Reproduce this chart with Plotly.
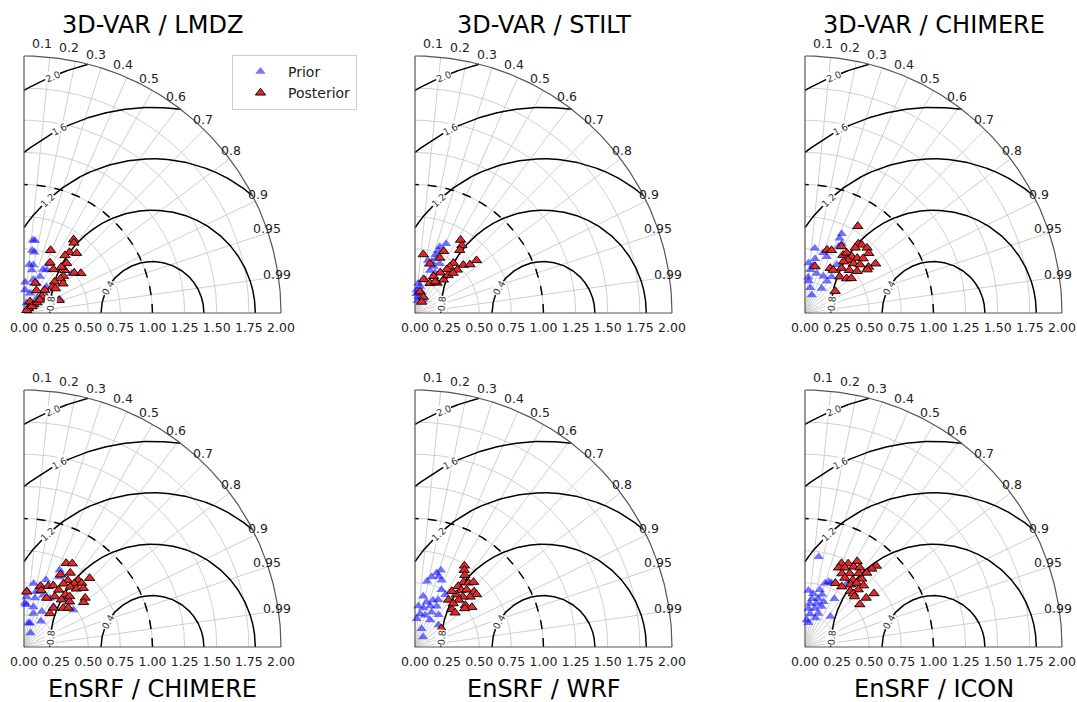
import numpy as np
import plotly.graph_objects as go

# ---------------- data ----------------
titles = ["3D-VAR / LMDZ", "3D-VAR / STILT", "3D-VAR / CHIMERE",
          "EnSRF / CHIMERE", "EnSRF / WRF", "EnSRF / ICON"]

corr_ticks = [0.1, 0.2, 0.3, 0.4, 0.5, 0.6, 0.7, 0.8, 0.9, 0.95, 0.99]
corr_tick_text = ["0.1", "0.2", "0.3", "0.4", "0.5", "0.6", "0.7", "0.8", "0.9", "0.95", "0.99"]
std_ticks = [0.0, 0.25, 0.5, 0.75, 1.0, 1.25, 1.5, 1.75, 2.0]
std_tick_text = ["0.00", "0.25", "0.50", "0.75", "1.00", "1.25", "1.50", "1.75", "2.00"]
rmsd_levels = [0.4, 0.8, 1.2, 1.6, 2.0]
rmsd_level_text = ["0.4", "0.8", "1.2", "1.6", "2.0"]
ref_std = 1.0
std_max = 2.0

# Panel 1: 3D-VAR / LMDZ
prior_std_1 = [0.57, 0.57, 0.49, 0.48, 0.38, 0.38, 0.34, 0.37, 0.38, 0.43, 0.24, 0.27,
               0.25, 0.31, 0.48, 0.30, 0.16, 0.22, 0.16, 0.08, 0.09, 0.05, 0.27, 0.18]
prior_corr_1 = [0.12, 0.15, 0.13, 0.17, 0.11, 0.19, 0.18, 0.40, 0.47, 0.45, 0.04, 0.27,
                0.40, 0.40, 0.77, 0.94, 0.65, 0.67, 0.29, 0.26, 0.70, 0.68, 0.65, 0.04]
post_std_1 = [0.69, 0.67, 0.53, 0.59, 0.62, 0.55, 0.44, 0.51, 0.41, 0.46, 0.46, 0.42,
              0.39, 0.54, 0.50, 0.34, 0.38, 0.25, 0.30, 0.31, 0.24, 0.21, 0.20, 0.29,
              0.10, 0.10, 0.05, 0.19, 0.03, 0.08, 0.13, 0.16]
post_corr_1 = [0.56, 0.58, 0.39, 0.60, 0.66, 0.58, 0.46, 0.65, 0.56, 0.69, 0.63, 0.73,
               0.73, 0.82, 0.78, 0.70, 0.80, 0.35, 0.74, 0.79, 0.67, 0.84, 0.48, 0.94,
               0.47, 0.76, 0.68, 0.73, 0.71, 0.77, 0.78, 0.77]

# Panel 2: 3D-VAR / STILT
prior_std_2 = [0.59, 0.55, 0.52, 0.53, 0.48, 0.46, 0.42, 0.39, 0.35, 0.35, 0.23, 0.21,
               0.18, 0.17, 0.27, 0.13, 0.12, 0.43, 0.42, 0.15, 0.10]
prior_corr_2 = [0.41, 0.35, 0.35, 0.42, 0.33, 0.37, 0.31, 0.37, 0.33, 0.45, 0.11, 0.19,
                0.07, 0.30, 0.29, 0.20, 0.54, 0.45, 0.24, 0.07, 0.20]
post_std_2 = [0.67, 0.64, 0.60, 0.46, 0.53, 0.47, 0.40, 0.49, 0.45, 0.53, 0.57, 0.63,
              0.47, 0.42, 0.37, 0.32, 0.34, 0.27, 0.26, 0.29, 0.17, 0.14, 0.10, 0.39,
              0.43, 0.29]
post_corr_2 = [0.53, 0.57, 0.58, 0.14, 0.42, 0.41, 0.29, 0.61, 0.60, 0.71, 0.75, 0.76,
               0.70, 0.59, 0.53, 0.45, 0.65, 0.25, 0.45, 0.59, 0.23, 0.46, 0.51, 0.66,
               0.69, 0.54]

# Panel 3: 3D-VAR / CHIMERE
prior_std_3 = [0.68, 0.64, 0.61, 0.58, 0.51, 0.49, 0.47, 0.39, 0.38, 0.34, 0.32, 0.28,
               0.32, 0.20, 0.23, 0.15, 0.25, 0.35, 0.45, 0.30, 0.43]
prior_corr_3 = [0.42, 0.42, 0.47, 0.45, 0.15, 0.29, 0.36, 0.07, 0.17, 0.12, 0.28, 0.09,
                0.45, 0.20, 0.56, 0.35, 0.11, 0.59, 0.55, 0.57, 0.18]
post_std_3 = [0.79, 0.59, 0.68, 0.69, 0.64, 0.70, 0.52, 0.53, 0.68, 0.54, 0.57, 0.57,
              0.53, 0.59, 0.62, 0.50, 0.54, 0.57, 0.61, 0.67, 0.40, 0.40, 0.45, 0.48,
              0.52, 0.59, 0.39, 0.42, 0.45, 0.29, 0.37]
post_corr_3 = [0.52, 0.48, 0.61, 0.64, 0.61, 0.69, 0.33, 0.39, 0.73, 0.55, 0.57, 0.64,
               0.63, 0.69, 0.73, 0.60, 0.70, 0.75, 0.81, 0.82, 0.49, 0.55, 0.63, 0.72,
               0.78, 0.82, 0.69, 0.77, 0.80, 0.81, 0.21]

# Panel 4: EnSRF / CHIMERE
prior_std_4 = [0.66, 0.64, 0.61, 0.55, 0.50, 0.49, 0.44, 0.44, 0.39, 0.39, 0.43, 0.33,
               0.32, 0.43, 0.39, 0.48, 0.49, 0.19, 0.31, 0.34, 0.19, 0.12, 0.24, 0.27]
prior_corr_4 = [0.42, 0.45, 0.45, 0.31, 0.15, 0.28, 0.05, 0.21, 0.05, 0.22, 0.35, 0.06,
                0.23, 0.47, 0.59, 0.80, 0.66, 0.25, 0.45, 0.02, 0.18, 0.42, 0.55, 0.27]
post_std_4 = [0.73, 0.75, 0.68, 0.63, 0.67, 0.62, 0.49, 0.51, 0.53, 0.58, 0.63, 0.67,
              0.74, 0.52, 0.59, 0.61, 0.65, 0.46, 0.52, 0.53, 0.43, 0.42, 0.47, 0.61,
              0.58, 0.50, 0.38, 0.43, 0.33, 0.46, 0.46]
post_corr_4 = [0.45, 0.50, 0.53, 0.45, 0.63, 0.55, 0.26, 0.37, 0.43, 0.53, 0.62, 0.67,
               0.69, 0.52, 0.61, 0.67, 0.71, 0.52, 0.62, 0.67, 0.05, 0.42, 0.62, 0.78,
               0.80, 0.71, 0.60, 0.71, 0.61, 0.75, 0.29]

# Panel 5: EnSRF / WRF
prior_std_5 = [0.63, 0.60, 0.56, 0.58, 0.52, 0.56, 0.49, 0.47, 0.40, 0.36, 0.39, 0.41,
               0.32, 0.31, 0.34, 0.36, 0.26, 0.26, 0.30, 0.31, 0.15, 0.10, 0.25, 0.24,
               0.22]
prior_corr_5 = [0.32, 0.28, 0.23, 0.32, 0.18, 0.37, 0.42, 0.50, 0.16, 0.25, 0.36, 0.44,
                0.08, 0.21, 0.35, 0.47, 0.15, 0.30, 0.43, 0.59, 0.34, 0.63, 0.73, 0.49,
                0.06]
post_std_5 = [0.74, 0.71, 0.68, 0.63, 0.65, 0.68, 0.58, 0.57, 0.60, 0.63, 0.63, 0.58,
              0.54, 0.52, 0.52, 0.45, 0.50, 0.51, 0.54, 0.41, 0.41, 0.49, 0.25, 0.45]
post_corr_5 = [0.52, 0.54, 0.57, 0.60, 0.64, 0.67, 0.58, 0.63, 0.67, 0.73, 0.76, 0.74,
               0.69, 0.62, 0.55, 0.58, 0.68, 0.77, 0.82, 0.70, 0.76, 0.79, 0.82, 0.66]

# Panel 6: EnSRF / ICON
prior_std_6 = [0.71, 0.44, 0.52, 0.54, 0.54, 0.46, 0.42, 0.38, 0.39, 0.43, 0.34, 0.35,
               0.38, 0.30, 0.31, 0.34, 0.26, 0.28, 0.24, 0.19, 0.44, 0.31, 0.59, 0.21]
prior_corr_6 = [0.15, 0.06, 0.30, 0.34, 0.38, 0.25, 0.15, 0.14, 0.26, 0.31, 0.11, 0.26,
                0.38, 0.09, 0.25, 0.38, 0.15, 0.37, 0.33, 0.14, 0.52, 0.64, 0.55, 0.06]
post_std_6 = [0.71, 0.73, 0.78, 0.67, 0.69, 0.73, 0.75, 0.84, 0.80, 0.64, 0.67, 0.71,
              0.75, 0.62, 0.64, 0.69, 0.55, 0.55, 0.60, 0.64, 0.66, 0.56, 0.61, 0.56,
              0.68, 0.61, 0.54, 0.55]
post_corr_6 = [0.40, 0.46, 0.52, 0.39, 0.45, 0.52, 0.57, 0.66, 0.65, 0.45, 0.52, 0.59,
               0.64, 0.50, 0.58, 0.64, 0.43, 0.52, 0.59, 0.63, 0.69, 0.63, 0.68, 0.67,
               0.79, 0.78, 0.79, 0.70]

prior_std = [prior_std_1, prior_std_2, prior_std_3, prior_std_4, prior_std_5, prior_std_6]
prior_corr = [prior_corr_1, prior_corr_2, prior_corr_3, prior_corr_4, prior_corr_5, prior_corr_6]
post_std = [post_std_1, post_std_2, post_std_3, post_std_4, post_std_5, post_std_6]
post_corr = [post_corr_1, post_corr_2, post_corr_3, post_corr_4, post_corr_5, post_corr_6]

# ---------------- layout / style ----------------
W, H = 1077, 702
FONT = "DejaVu Sans"
S = 128.5          # pixels per std unit
PAD = 0.04
origins = [(24, 313), (415, 313), (805, 313), (24, 647), (415, 647), (805, 647)]
label_phi = {0.4: 150, 0.8: 175, 1.2: 133, 1.6: 117, 2.0: 112.8}  # degrees around the reference point

GRID = "#cfcfcf"
FRAME = "#555555"


def to_xy(std, corr):
    std = np.asarray(std, float)
    corr = np.asarray(corr, float)
    th = np.arccos(corr)
    return std * np.cos(th), std * np.sin(th)


fig = go.Figure()
annotations = []

for i, (ox, oy) in enumerate(origins):
    k = i + 1
    xs = "x" if k == 1 else f"x{k}"
    ys = "y" if k == 1 else f"y{k}"
    xa = "xaxis" if k == 1 else f"xaxis{k}"
    ya = "yaxis" if k == 1 else f"yaxis{k}"
    x_dom = [(ox - PAD * S) / W, (ox + (std_max + PAD) * S) / W]
    y_dom = [(H - oy - PAD * S) / H, (H - oy + (std_max + PAD) * S) / H]
    fig.layout[xa] = dict(domain=x_dom, range=[-PAD, std_max + PAD], anchor=ys,
                          tickvals=std_ticks, ticktext=std_tick_text, showgrid=False,
                          zeroline=False, showline=False, ticks="", automargin=False,
                          tickfont=dict(family=FONT, size=12.5, color="#222"),
                          fixedrange=True)
    fig.layout[ya] = dict(domain=y_dom, range=[-PAD, std_max + PAD], anchor=xs,
                          showticklabels=False, showgrid=False, zeroline=False,
                          showline=False, ticks="", fixedrange=True, automargin=False)

    # gray grid: radial lines and std arcs
    gx, gy = [], []
    for c in corr_ticks:
        t = np.arccos(c)
        gx += [0, std_max * np.cos(t), None]
        gy += [0, std_max * np.sin(t), None]
    phi = np.linspace(0, np.pi / 2, 200)
    for r in std_ticks[1:-1]:
        gx += list(r * np.cos(phi)) + [None]
        gy += list(r * np.sin(phi)) + [None]
    fig.add_trace(go.Scatter(x=gx, y=gy, mode="lines", line=dict(color=GRID, width=1),
                             hoverinfo="skip", showlegend=False, xaxis=xs, yaxis=ys))

    # RMSD contours around reference point
    cx, cy = [], []
    pp = np.linspace(0, np.pi, 3000)
    for r in rmsd_levels:
        x = ref_std + r * np.cos(pp)
        y = r * np.sin(pp)
        m = (x >= 0) & (x ** 2 + y ** 2 <= std_max ** 2 + 1e-9)
        cx += list(x[m]) + [None]
        cy += list(y[m]) + [None]
    fig.add_trace(go.Scatter(x=cx, y=cy, mode="lines", line=dict(color="black", width=1.5),
                             hoverinfo="skip", showlegend=False, xaxis=xs, yaxis=ys))

    # reference std (dashed)
    fig.add_trace(go.Scatter(x=ref_std * np.cos(phi), y=ref_std * np.sin(phi), mode="lines",
                             line=dict(color="black", width=1.5, dash="dash"),
                             hoverinfo="skip", showlegend=False, xaxis=xs, yaxis=ys))

    # frame: outer arc + axes
    fig.add_trace(go.Scatter(x=[0, 0, None] + list(std_max * np.cos(phi)) + [None, 0, std_max],
                             y=[0, std_max, None] + list(std_max * np.sin(phi)) + [None, 0, 0],
                             mode="lines", line=dict(color=FRAME, width=1.2),
                             hoverinfo="skip", showlegend=False, xaxis=xs, yaxis=ys))

    # data
    px_, py_ = to_xy(prior_std[i], prior_corr[i])
    fig.add_trace(go.Scatter(x=px_, y=py_, mode="markers", name="Prior",
                             marker=dict(symbol="triangle-up", size=9, color="rgba(0,0,255,0.55)",
                                         line=dict(width=0)),
                             showlegend=(k == 1), legendgroup="prior", xaxis=xs, yaxis=ys))
    qx, qy = to_xy(post_std[i], post_corr[i])
    fig.add_trace(go.Scatter(x=qx, y=qy, mode="markers", name="Posterior",
                             marker=dict(symbol="triangle-up", size=9, color="rgb(228,40,40)",
                                         line=dict(width=0.9, color="black")),
                             showlegend=(k == 1), legendgroup="post", xaxis=xs, yaxis=ys))

    # correlation labels on the outer arc
    for c, txt in zip(corr_ticks, corr_tick_text):
        t = np.arccos(c)
        deg = np.degrees(t)
        dy = 14 * np.sin(t)
        dx = (-8.5 + 0.18 * (90 - deg)) if len(txt) == 3 else -1.0
        annotations.append(dict(x=std_max * np.cos(t), y=std_max * np.sin(t), xref=xs, yref=ys,
                                text=txt, showarrow=False, xshift=dx, yshift=dy,
                                font=dict(family=FONT, size=12.5, color="#222")))

    # RMSD contour labels
    for r, txt in zip(rmsd_levels, rmsd_level_text):
        ph = np.radians(label_phi[r])
        annotations.append(dict(x=ref_std + r * np.cos(ph), y=r * np.sin(ph), xref=xs, yref=ys,
                                text=txt, showarrow=False, textangle=-(label_phi[r] - 90),
                                bgcolor="white", borderpad=0,
                                font=dict(family=FONT, size=9.5, color="#333")))

    # panel title
    ty = 25 if oy < 400 else 689
    annotations.append(dict(x=(ox + S * std_max / 2) / W, y=1 - ty / H, xref="paper", yref="paper",
                            text=titles[i], showarrow=False, xanchor="center", yanchor="middle",
                            font=dict(family=FONT, size=24, color="black")))

fig.update_layout(
    width=W, height=H, autosize=False,
    margin=dict(l=0, r=0, t=0, b=0, autoexpand=False),
    paper_bgcolor="white", plot_bgcolor="white",
    font=dict(family=FONT),
    annotations=annotations,
    legend=dict(x=232 / W, y=1 - 55 / H, xanchor="left", yanchor="top",
                bgcolor="white", bordercolor="#cccccc", borderwidth=1, itemwidth=45,
                font=dict(family=FONT, size=14, color="#222"), tracegroupgap=0),
)

fig.write_html("out.html", config={"displayModeBar": False},
               post_script="document.body.style.margin='0px';document.body.style.padding='0px';")
